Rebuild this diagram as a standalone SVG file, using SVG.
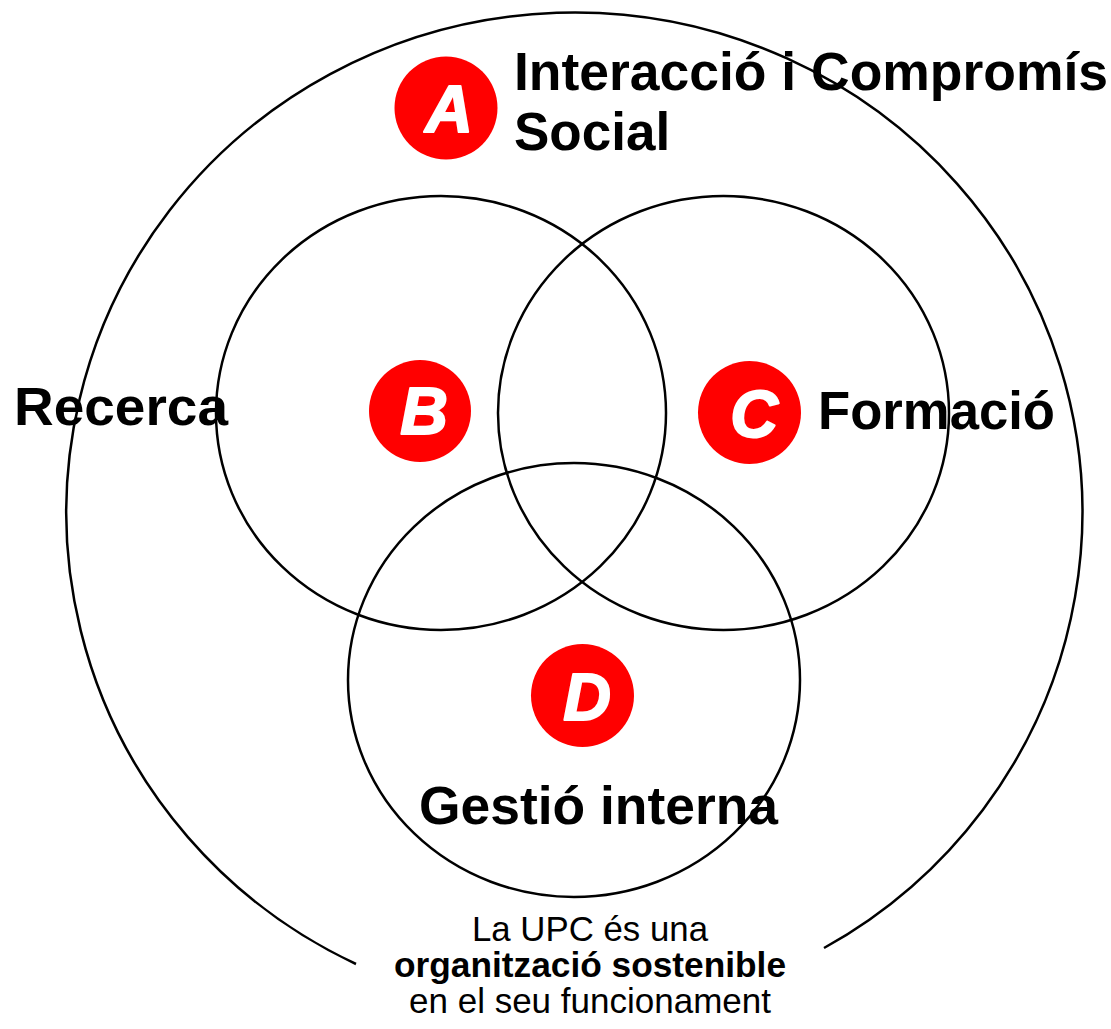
<svg xmlns="http://www.w3.org/2000/svg" width="1111" height="1029" viewBox="0 0 1111 1029">
<style>
.ring{fill:none;stroke:#000;stroke-width:2.5}
.badge{fill:#ff0000}
.letter{font-family:"Liberation Sans",Arial,sans-serif;font-weight:bold;font-style:italic;font-size:66px;fill:#fff;stroke:#fff;stroke-width:2;stroke-linejoin:round;text-anchor:middle}
.label{font-family:"Liberation Sans",Arial,sans-serif;font-weight:bold;font-size:53px;fill:#000}
.foot{font-family:"Liberation Sans",Arial,sans-serif;font-size:35px;fill:#000;text-anchor:middle}
</style>
<rect width="1111" height="1029" fill="#fff"/>
<g id="connectors">
<path id="outer" class="ring" stroke-width="3" d="M356,964 A508,500 0 1 1 824,948"/>
</g>
<g id="circle-B"><ellipse class="ring" cx="441" cy="413" rx="225" ry="217"/></g>
<g id="circle-C"><ellipse class="ring" cx="723.5" cy="413" rx="225.5" ry="217"/></g>
<g id="circle-D"><ellipse class="ring" cx="574" cy="680" rx="226" ry="217"/></g>
<g id="node-A">
<circle class="badge" cx="446" cy="108" r="51.5"/>
<text class="letter" x="449" y="132">A</text>
<text class="label" x="514" y="90" textLength="594" lengthAdjust="spacingAndGlyphs">Interacció i Compromís</text>
<text class="label" x="514" y="150">Social</text>
</g>
<g id="node-B">
<circle class="badge" cx="420" cy="411" r="51"/>
<text class="letter" x="424" y="434">B</text>
<text class="label" x="14" y="425" textLength="214" lengthAdjust="spacingAndGlyphs">Recerca</text>
</g>
<g id="node-C">
<circle class="badge" cx="749.5" cy="412.5" r="51.5"/>
<text class="letter" x="754" y="437">C</text>
<text class="label" x="818" y="429" textLength="237" lengthAdjust="spacingAndGlyphs">Formació</text>
</g>
<g id="node-D">
<circle class="badge" cx="582.5" cy="695.5" r="51.5"/>
<text class="letter" x="587" y="720">D</text>
<text class="label" x="419" y="824" textLength="359" lengthAdjust="spacingAndGlyphs">Gestió interna</text>
</g>
<g id="caption">
<text class="foot" x="590" y="941" textLength="236" lengthAdjust="spacingAndGlyphs">La UPC és una</text>
<text class="foot" x="590" y="977" font-weight="bold" textLength="392" lengthAdjust="spacingAndGlyphs">organització sostenible</text>
<text class="foot" x="590" y="1013" textLength="362" lengthAdjust="spacingAndGlyphs">en el seu funcionament</text>
</g>
</svg>
